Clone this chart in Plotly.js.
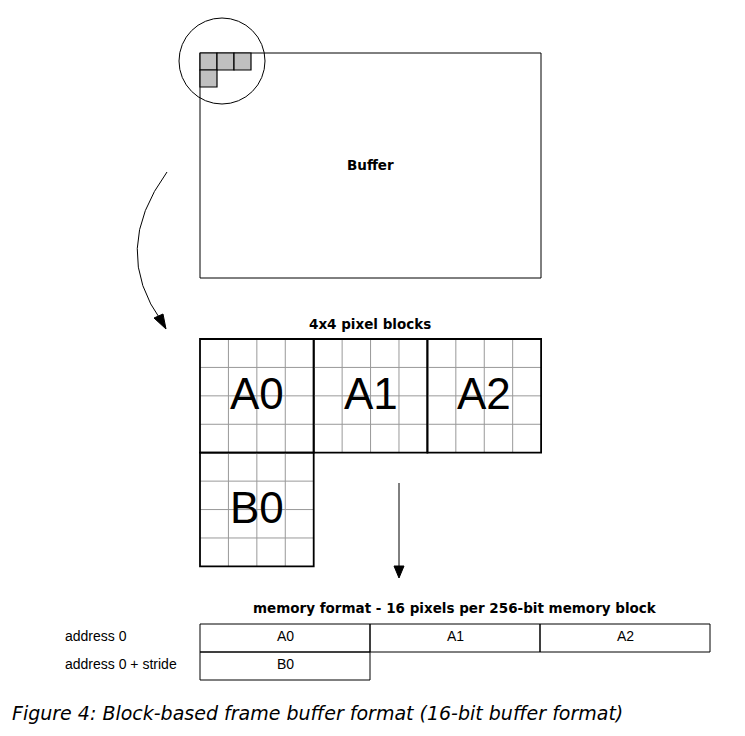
<!DOCTYPE html>
<html><head><meta charset="utf-8">
<script src="https://cdn.plot.ly/plotly-3.0.1.min.js"></script>
<style>body{margin:0;background:#fff}</style></head>
<body><div id="plot" style="width:745px;height:736px"></div>
<script>
// block layout (column, row) in units of one 4x4 block
var blockNames = ['A0', 'A1', 'A2', 'B0'];
var blockCol = [0, 1, 2, 0];
var blockRow = [0, 0, 0, 1];
// memory table
var memRowLabels = ['address 0', 'address 0 + stride'];
var memCells = [['A0', 'A1', 'A2'], ['B0']];
// highlighted pixels in buffer corner (column,row)
var pixCol = [0, 1, 2, 0];
var pixRow = [0, 0, 0, 1];

var shapes = [], ann = [];
var black = '#000', grey = '#999';
function rect(x0, y0, x1, y1, col, w, fill) {
  shapes.push({type: 'rect', xref: 'x', yref: 'y', x0: x0, y0: y0, x1: x1, y1: y1,
    line: {color: col, width: w}, fillcolor: fill || 'rgba(0,0,0,0)'});
}
function line(x0, y0, x1, y1, col, w) {
  shapes.push({type: 'line', xref: 'x', yref: 'y', x0: x0, y0: y0, x1: x1, y1: y1, line: {color: col, width: w}});
}
function text(x, y, t, size, anchor, fam) {
  ann.push({x: x, y: y, xref: 'x', yref: 'y', text: t, showarrow: false,
    xanchor: anchor || 'center', font: {family: fam || 'Liberation Sans, Arial', size: size, color: '#000'}});
}
var boldFam = 'DejaVu Sans';

// buffer
rect(200, 53, 541, 278, black, 1);
for (var i = 0; i < pixCol.length; i++)
  rect(200 + pixCol[i] * 17, 53 + pixRow[i] * 17, 217 + pixCol[i] * 17, 70 + pixRow[i] * 17, black, 1.2, '#c0c0c0');
shapes.push({type: 'circle', xref: 'x', yref: 'y', x0: 179, y0: 18, x1: 265, y1: 104, line: {color: black, width: 1}});
text(370, 165, '<b>Buffer</b>', 13.5, 'center', boldFam);

// curved arrow
shapes.push({type: 'path', xref: 'x', yref: 'y', path: 'M 167 172 Q 110 250 162 322', line: {color: black, width: 1}});
shapes.push({type: 'path', xref: 'x', yref: 'y', path: 'M 154 318 L 166 329 L 163 314 Z', fillcolor: black, line: {color: black, width: 1}});

// blocks
var bs = 113.7, ox = 200, oy = 339;
text(370, 324, '<b>4x4 pixel blocks</b>', 13.5, 'center', boldFam);
for (var b = 0; b < blockNames.length; b++) {
  var x0 = ox + blockCol[b] * bs, y0 = oy + blockRow[b] * bs;
  for (var k = 1; k < 4; k++) {
    line(x0 + k * bs / 4, y0, x0 + k * bs / 4, y0 + bs, grey, 1);
    line(x0, y0 + k * bs / 4, x0 + bs, y0 + k * bs / 4, grey, 1);
  }
  rect(x0, y0, x0 + bs, y0 + bs, black, 1.8);
  text(x0 + bs / 2, y0 + bs / 2 - 2, blockNames[b], 44);
}

// down arrow
line(399, 483, 399, 568, black, 1);
shapes.push({type: 'path', xref: 'x', yref: 'y', path: 'M 394 566 L 404 566 L 399 578 Z', fillcolor: black, line: {color: black, width: 1}});

// memory table
text(455, 608, '<b>memory format - 16 pixels per 256-bit memory block</b>', 13.5, 'center', boldFam);
var cw = 170, rh = 28, ty = 624;
for (var r = 0; r < memCells.length; r++) {
  text(63, ty + r * rh + rh / 2 - 2, memRowLabels[r], 14, 'left');
  for (var c = 0; c < memCells[r].length; c++) {
    rect(200 + c * cw, ty + r * rh, 200 + (c + 1) * cw, ty + (r + 1) * rh, black, 1);
    text(200 + c * cw + cw / 2, ty + r * rh + rh / 2 - 2, memCells[r][c], 14);
  }
}

text(10, 713, '<i>Figure 4: Block-based frame buffer format (16-bit buffer format)</i>', 19, 'left', 'DejaVu Sans');

var layout = {
  width: 745, height: 736, margin: {l: 0, r: 0, t: 0, b: 0},
  paper_bgcolor: '#fff', plot_bgcolor: '#fff', showlegend: false,
  xaxis: {range: [0, 745], visible: false, fixedrange: true},
  yaxis: {range: [736, 0], visible: false, fixedrange: true},
  shapes: shapes, annotations: ann
};
Plotly.newPlot('plot', [], layout, {displayModeBar: false, staticPlot: true});
</script></body></html>
